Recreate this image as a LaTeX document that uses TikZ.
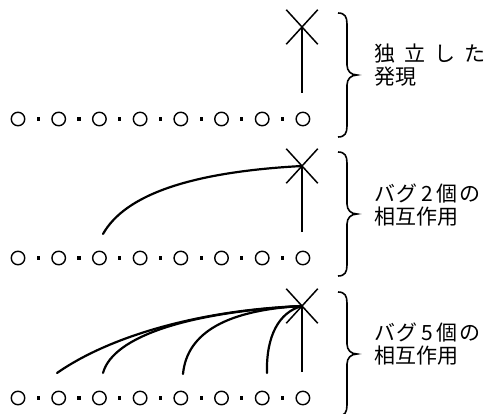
\documentclass[tikz,border=0pt]{standalone}
\usepackage{fontspec}
\newfontfamily\jp{Noto Sans CJK JP}
\usetikzlibrary{shapes.misc}
\tikzset{
  gene/.style={circle, draw, line width=1.4pt, minimum size=13.5pt, inner sep=0pt},
  link/.style={rectangle, fill, minimum size=3.2pt, inner sep=0pt},
  bug/.style={cross out, draw, line width=1.5pt, minimum width=30pt, minimum height=33pt, inner sep=0pt},
  stem/.style={line width=1.4pt},
  path/.style={line width=2.2pt, line cap=round},
  brace/.style={line width=1.6pt},
  lbl/.style={anchor=west, inner sep=0pt, font=\jp\fontsize{21}{22}\selectfont},
}
\begin{document}
\begin{tikzpicture}[x=1pt, y=-1pt]
\useasboundingbox (0,0) rectangle (484,414);
% three rows of eight genes, each with a bug mark above the last gene
\foreach \r/\dy in {1/0, 2/139, 3/279} {
  \foreach \i in {0,...,7} {
    \node[gene] (c\r-\i) at ({18+40.7*\i}, {119+\dy}) {};
  }
  \foreach \i in {0,...,6} {
    \node[link] (d\r-\i) at ({38.35+40.7*\i}, {119+\dy}) {};
  }
  \node[bug] (x\r) at (302, {27+\dy}) {};
  \coordinate (t\r) at (302, {93+\dy});
  \draw[stem] (t\r) -- (x\r.center);
  % right brace
  \draw[brace] (338,{13+\dy}) .. controls (345,{13+\dy}) and (347,{17+\dy}) .. (347,{24+\dy})
    -- (347,{65+\dy}) .. controls (347,{71+\dy}) and (351,{75+\dy}) .. (357,{75+\dy})
    .. controls (351,{75+\dy}) and (347,{79+\dy}) .. (347,{85+\dy})
    -- (347,{126+\dy}) .. controls (347,{133+\dy}) and (345,{137+\dy}) .. (338,{137+\dy});
}

% labels
\node[lbl] (l1a) at (374,54) {独\kern9pt 立\kern9pt し\kern9pt た};
\node[lbl] (l1b) at (374,77) {発現};
\node[lbl] (l2a) at (374,194) {バ\kern1pt グ\kern4pt 2\kern4pt 個\kern2pt の};
\node[lbl] (l2b) at (374,217) {相互作用};
\node[lbl] (l3a) at (374,333) {バ\kern1pt グ\kern4pt 5\kern4pt 個\kern2pt の};
\node[lbl] (l3b) at (374,356) {相互作用};

% interaction of two bugs
\coordinate (s2-2) at (103,234);
\draw[path] (s2-2) .. controls (125,195) and (190,172) .. (x2.center);

% interaction of five bugs
\coordinate (s3-1) at (57,373);
\coordinate (s3-2) at (103,373);
\coordinate (s3-4) at (183,374);
\coordinate (s3-6) at (267,373);
\draw[path] (s3-1) .. controls (110,336) and (200,310) .. (x3.center);
\draw[path] (s3-2) .. controls (113,336) and (190,312) .. (x3.center);
\draw[path] (s3-4) .. controls (187,332) and (228,310) .. (x3.center);
\draw[path] (s3-6) .. controls (266,336) and (279,312) .. (x3.center);
\end{tikzpicture}
\end{document}
